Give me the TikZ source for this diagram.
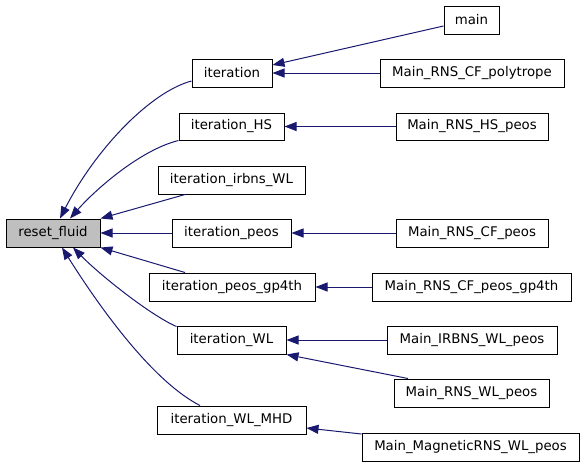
\documentclass[tikz,border=0pt]{standalone}
\usepackage{fontspec}
\setmainfont{DejaVu Sans}
\usetikzlibrary{arrows.meta}
\definecolor{edgecol}{HTML}{191970}
\begin{document}
\begin{tikzpicture}[x=1pt,y=-1pt,
  box/.style={draw=black,line width=1pt,inner sep=0pt,minimum height=28pt,font=\fontsize{13.3}{15}\selectfont,fill=white},
  edge/.style={draw=edgecol,line width=1pt,-{Triangle[length=12pt,width=9pt]}}]
\useasboundingbox (0,0) rectangle (587,467);
\node[box,fill={rgb,255:red,191;green,191;blue,191},minimum width=94pt] (rf) at (53,233) {reset\_fluid};
\node[box,minimum width=80pt] (it) at (232,73) {iteration};
\node[box,minimum width=55pt] (main) at (471.5,20) {main};
\node[box,minimum width=184pt] (pol) at (472,73) {Main\_RNS\_CF\_polytrope};
\node[box,minimum width=105pt,minimum height=27pt] (iths) at (231.5,126.5) {iteration\_HS};
\node[box,minimum width=152pt,minimum height=27pt] (hs) at (472,126.5) {Main\_RNS\_HS\_peos};
\node[box,minimum width=147pt] (irb) at (231.5,180) {iteration\_irbns\_WL};
\node[box,minimum width=119pt] (itp) at (231.5,233) {iteration\_peos};
\node[box,minimum width=152pt] (cfp) at (472,233) {Main\_RNS\_CF\_peos};
\node[box,minimum width=166pt] (itg) at (232,287) {iteration\_peos\_gp4th};
\node[box,minimum width=199pt] (cfg) at (471.5,287) {Main\_RNS\_CF\_peos\_gp4th};
\node[box,minimum width=109pt] (itwl) at (231.5,340) {iteration\_WL};
\node[box,minimum width=170pt] (irwl) at (472,340) {Main\_IRBNS\_WL\_peos};
\node[box,minimum width=155pt] (rwl) at (471.5,393) {Main\_RNS\_WL\_peos};
\node[box,minimum width=149pt] (itm) at (231.5,420) {iteration\_WL\_MHD};
\node[box,minimum width=217pt] (mag) at (470.5,447) {Main\_MagneticRNS\_WL\_peos};
% edges into reset_fluid
\draw[edge] ([yshift=-8pt]it.west) .. controls (150,92) and (95,150) .. ([xshift=7pt]rf.north);
\draw[edge] ([xshift=0pt]iths.south west) .. controls (140,150) and (95,190) .. ([xshift=17pt]rf.north);
\draw[edge] ([xshift=-46.5pt]irb.south) -- (rf.north east);
\draw[edge] (itp.west) -- (rf.east);
\draw[edge] ([xshift=-47pt]itg.north) -- (rf.south east);
\draw[edge] ([yshift=-1pt]itwl.north west) .. controls (150,315) and (100,275) .. ([xshift=20pt]rf.south);
\draw[edge] ([xshift=-31.5pt]itm.north) .. controls (150,380) and (95,300) .. ([xshift=9pt]rf.south);
% edges on right
\draw[edge] ([yshift=-6pt]main.west) -- ([yshift=8pt]it.east);
\draw[edge] (pol.west) -- (it.east);
\draw[edge] (hs.west) -- (iths.east);
\draw[edge] (cfp.west) -- (itp.east);
\draw[edge] (cfg.west) -- (itg.east);
\draw[edge] (irwl.west) -- (itwl.east);
\draw[edge] ([xshift=-63.5pt]rwl.north) -- (itwl.south east);
\draw[edge] ([yshift=13pt]mag.west) -- ([yshift=-8pt]itm.east);
\end{tikzpicture}
\end{document}
